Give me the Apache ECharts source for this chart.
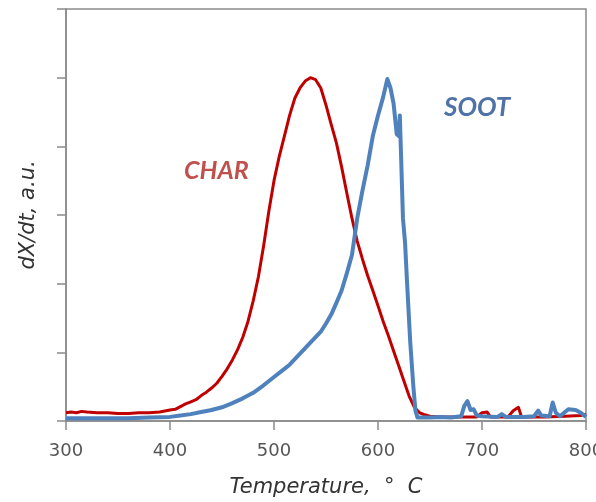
<!DOCTYPE html>
<html>
<head>
<meta charset="utf-8">
<script src="https://cdn.jsdelivr.net/npm/echarts@6/dist/echarts.min.js"></script>
<style>
  html, body { margin: 0; padding: 0; background: #fff; }
  #chart { width: 596px; height: 502px; }
</style>
</head>
<body>
<div id="chart"></div>
<script>
// x axis ticks (temperature, deg C)
const xTicks = [300, 400, 500, 600, 700, 800];

// CHAR curve
const charTemp = [300, 305, 310, 315, 320, 330, 340, 350, 360, 370, 380, 390, 400, 405, 410, 415, 420, 425, 430, 435,
  440, 445, 450, 455, 460, 465, 470, 475, 480, 485, 490, 495, 500, 505, 510, 515, 520, 525, 530, 535,
  540, 545, 550, 555, 560, 565, 570, 575, 580, 585, 590, 595, 600, 605, 610, 615, 620, 625, 630, 635,
  640, 645, 650, 660, 680, 695, 700, 705, 708, 725, 730, 735, 738, 760, 780, 795, 800];
const charVal = [0.12, 0.13, 0.12, 0.14, 0.13, 0.12, 0.12, 0.11, 0.11, 0.12, 0.12, 0.13, 0.16, 0.17, 0.21, 0.25, 0.28, 0.31, 0.37, 0.42,
  0.48, 0.55, 0.65, 0.76, 0.89, 1.04, 1.22, 1.45, 1.75, 2.1, 2.55, 3.05, 3.5, 3.85, 4.15, 4.45, 4.7, 4.85, 4.95, 5.0,
  4.97, 4.85, 4.6, 4.32, 4.05, 3.7, 3.32, 2.95, 2.62, 2.36, 2.12, 1.9, 1.68, 1.45, 1.24, 1.02, 0.8, 0.58, 0.36, 0.2,
  0.12, 0.09, 0.07, 0.06, 0.06, 0.06, 0.12, 0.13, 0.06, 0.06, 0.15, 0.2, 0.06, 0.06, 0.07, 0.08, 0.1];

// SOOT curve
const sootTemp = [300, 320, 340, 360, 380, 400, 410, 420, 430, 440, 450, 460, 470, 480, 490, 500, 510, 515, 520, 525,
  530, 535, 540, 545, 550, 555, 560, 565, 570, 575, 580, 585, 590, 595, 600, 605, 609, 612, 615, 618,
  620, 621, 622, 624, 626, 628, 631, 634, 636, 638, 650, 660, 670, 680, 683, 686, 689, 692, 695, 700,
  715, 719, 723, 740, 750, 754, 757, 765, 768, 771, 775, 783, 790, 795, 800];
const sootVal = [0.04, 0.04, 0.04, 0.04, 0.05, 0.06, 0.08, 0.1, 0.13, 0.16, 0.2, 0.26, 0.33, 0.41, 0.52, 0.64, 0.76, 0.82, 0.9, 0.98,
  1.06, 1.14, 1.22, 1.3, 1.42, 1.55, 1.72, 1.9, 2.15, 2.42, 2.95, 3.35, 3.72, 4.15, 4.45, 4.72, 4.98, 4.85, 4.62, 4.18,
  4.15, 4.45, 3.95, 2.95, 2.6, 2.0, 1.15, 0.5, 0.15, 0.05, 0.05, 0.06, 0.05, 0.07, 0.22, 0.29, 0.16, 0.17, 0.08, 0.07,
  0.06, 0.1, 0.06, 0.06, 0.07, 0.15, 0.08, 0.07, 0.27, 0.12, 0.07, 0.17, 0.16, 0.12, 0.06];

const chartDom = document.getElementById('chart');
const myChart = echarts.init(chartDom);

const charData = charTemp.map((t, i) => [t, charVal[i]]);
const sootData = sootTemp.map((t, i) => [t, sootVal[i]]);

const axisGray = '#8a8a8a';
const wideFont = '"DejaVu Sans", sans-serif';
const labelFont = 'Lato, "Open Sans", sans-serif';

let option = {
  animation: false,
  backgroundColor: '#fff',
  grid: {
    left: 66, right: 10, top: 9, bottom: 81,
    outerBoundsMode: 'none',
    containLabel: false,
    show: true, borderColor: axisGray, borderWidth: 1.5
  },
  xAxis: {
    type: 'value',
    min: xTicks[0],
    max: xTicks[xTicks.length - 1],
    interval: 100,
    name: 'Temperature,  °  C',
    nameLocation: 'middle',
    nameGap: 56,
    nameTextStyle: { fontFamily: wideFont, fontStyle: 'italic', fontSize: 21, color: '#333' },
    axisLine: { lineStyle: { color: axisGray, width: 1.5 } },
    axisTick: { show: true, length: 9, lineStyle: { color: axisGray, width: 1.5 } },
    axisLabel: { margin: 21, fontFamily: wideFont, fontSize: 18, color: '#555' },
    splitLine: { show: false }
  },
  yAxis: {
    type: 'value',
    min: 0,
    max: 6,
    interval: 1,
    name: 'dX/dt, a.u.',
    nameLocation: 'middle',
    nameGap: 27,
    nameTextStyle: { fontFamily: wideFont, fontStyle: 'italic', fontSize: 21, color: '#333' },
    axisLine: { show: true, lineStyle: { color: axisGray, width: 1.5 } },
    axisTick: { show: true, length: 9, lineStyle: { color: axisGray, width: 1.5 } },
    axisLabel: { show: false },
    splitLine: { show: false }
  },
  series: [
    {
      name: 'CHAR',
      type: 'line',
      data: charData,
      showSymbol: false,
      lineStyle: { color: '#c00000', width: 3, join: 'round' },
      z: 2
    },
    {
      name: 'SOOT',
      type: 'line',
      data: sootData,
      showSymbol: false,
      lineStyle: { color: '#4f81bd', width: 4, join: 'round' },
      z: 3
    }
  ],
  graphic: [
    {
      type: 'text', left: 184, top: 158,
      style: { text: 'CHAR', fontFamily: labelFont, fontStyle: 'italic', fontWeight: 'bold', fontSize: 25, fill: '#c0504d' }
    },
    {
      type: 'text', left: 444, top: 95,
      style: { text: 'SOOT', fontFamily: labelFont, fontStyle: 'italic', fontWeight: 'bold', fontSize: 26, fill: '#4f73a6' }
    }
  ]
};

option && myChart.setOption(option);
</script>
</body>
</html>
